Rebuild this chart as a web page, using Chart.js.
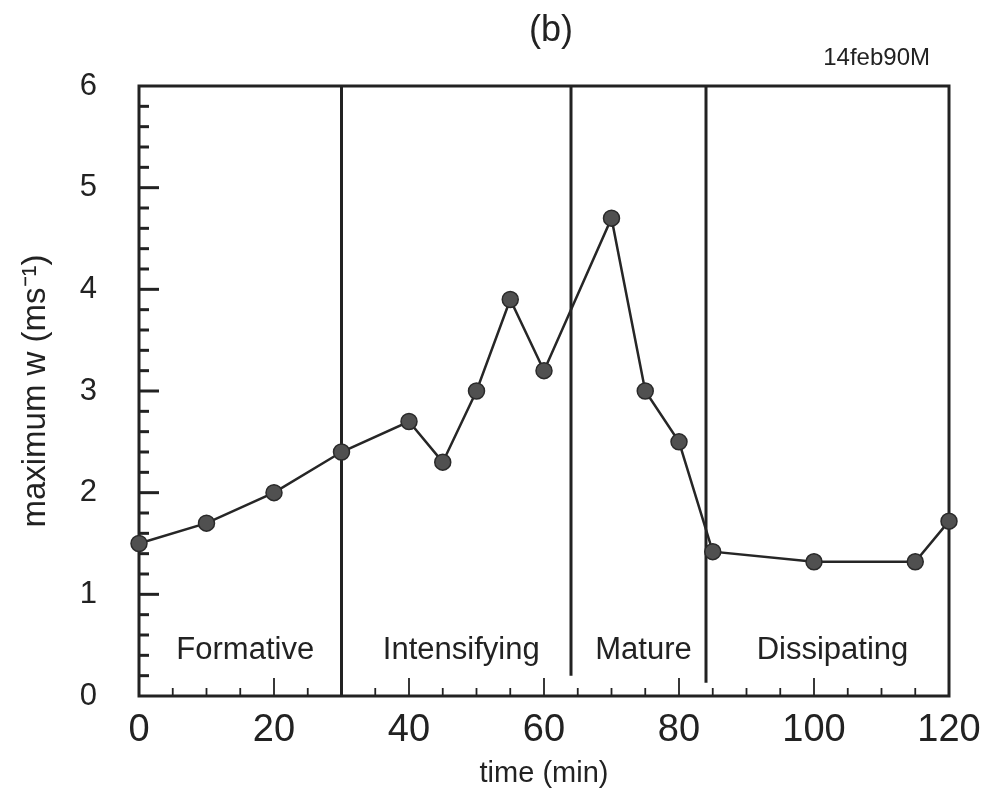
<!DOCTYPE html>
<html>
<head>
<meta charset="utf-8">
<script src="https://cdn.jsdelivr.net/npm/chart.js@4.4.0/dist/chart.umd.min.js"></script>
<style>
  html, body { margin: 0; padding: 0; background: #fff; }
  #wrap { width: 990px; height: 795px; }
</style>
</head>
<body>
<div id="wrap"><canvas id="grafica"></canvas></div>
<script>
const tiempos = [0, 10, 20, 30, 40, 45, 50, 55, 60, 70, 75, 80, 85, 100, 115, 120];
const maxW = [1.5, 1.7, 2.0, 2.4, 2.7, 2.3, 3.0, 3.9, 3.2, 4.7, 3.0, 2.5, 1.42, 1.32, 1.32, 1.72];
const fases = ['Formative', 'Intensifying', 'Mature', 'Dissipating'];
const limitesFase = [0, 30, 64, 84, 120];
const finLinea = [0, 0.2, 0.13]; // hasta donde baja cada linea separadora
const ticksX = [0, 20, 40, 60, 80, 100, 120];
const ticksY = [0, 1, 2, 3, 4, 5, 6];

const fuente = "'Liberation Sans', Arial, sans-serif";
const tinta = '#222';

const marco = {
    id: 'marco',
    beforeDatasetsDraw(chart) {
        const {ctx, chartArea: a, scales: {x, y}} = chart;
        ctx.save();
        ctx.strokeStyle = tinta;
        ctx.lineCap = 'butt';

        // ticks hacia dentro en el eje y
        ctx.lineWidth = 3;
        for (let i = 1; i < 30; i++) {
            const py = y.getPixelForValue(i / 5);
            const largo = i % 5 === 0 ? 20 : 10;
            ctx.beginPath();
            ctx.moveTo(a.left, py);
            ctx.lineTo(a.left + largo, py);
            ctx.stroke();
        }
        // ticks hacia dentro en el eje x
        ctx.lineWidth = 1.8;
        for (let i = 1; i < 24; i++) {
            const v = i * 5;
            const px = x.getPixelForValue(v);
            const largo = v % 20 === 0 ? 18 : 8;
            ctx.beginPath();
            ctx.moveTo(px, a.bottom);
            ctx.lineTo(px, a.bottom - largo);
            ctx.stroke();
        }

        // lineas entre fases
        ctx.lineWidth = 3;
        for (let k = 1; k < limitesFase.length - 1; k++) {
            const px = x.getPixelForValue(limitesFase[k]);
            ctx.beginPath();
            ctx.moveTo(px, a.top);
            ctx.lineTo(px, y.getPixelForValue(finLinea[k - 1]));
            ctx.stroke();
        }

        // recuadro
        ctx.lineWidth = 3;
        ctx.strokeRect(a.left, a.top, a.width, a.height);

        // nombres de las fases
        ctx.fillStyle = tinta;
        ctx.font = '31px ' + fuente;
        ctx.textAlign = 'center';
        ctx.textBaseline = 'middle';
        fases.forEach((nombre, k) => {
            const medio = (limitesFase[k] + limitesFase[k + 1]) / 2;
            ctx.fillText(nombre, x.getPixelForValue(medio) + 5, y.getPixelForValue(0.45));
        });
        ctx.restore();
    },
    afterDraw(chart) {
        const {ctx, chartArea: a} = chart;
        ctx.save();
        ctx.fillStyle = tinta;
        ctx.textBaseline = 'middle';
        ctx.textAlign = 'center';
        ctx.font = '36px ' + fuente;
        ctx.fillText('(b)', (a.left + a.right) / 2 + 7, 31);
        ctx.textAlign = 'right';
        ctx.font = '24px ' + fuente;
        ctx.fillText('14feb90M', a.right - 19, 58);
        ctx.restore();
    }
};

new Chart('grafica', {
    type: 'line',
    data: {
        datasets: [{
            data: tiempos.map((t, i) => ({x: t, y: maxW[i]})),
            borderColor: '#262626',
            borderWidth: 2.5,
            pointRadius: 8,
            pointBackgroundColor: '#505050',
            pointBorderColor: '#2a2a2a',
            pointBorderWidth: 1.5,
            tension: 0,
            clip: false
        }]
    },
    options: {
        responsive: true,
        maintainAspectRatio: false,
        animation: false,
        layout: {
            padding: {top: 86, right: 41, left: 0, bottom: 0}
        },
        plugins: {
            legend: {display: false},
            tooltip: {enabled: false}
        },
        scales: {
            x: {
                type: 'linear',
                min: 0,
                max: 120,
                afterBuildTicks: (s) => { s.ticks = ticksX.map(v => ({value: v})); },
                afterFit: (s) => { s.height = 99; s.paddingRight = 0; s.paddingLeft = 0; },
                grid: {display: false, drawTicks: false},
                border: {display: false},
                ticks: {
                    color: tinta,
                    padding: 12,
                    maxRotation: 0,
                    font: {family: fuente, size: 38}
                },
                title: {
                    display: true,
                    text: 'time (min)',
                    color: tinta,
                    padding: {top: 0, bottom: 4},
                    font: {family: fuente, size: 29}
                }
            },
            y: {
                min: 0,
                max: 6,
                afterBuildTicks: (s) => { s.ticks = ticksY.map(v => ({value: v})); },
                afterFit: (s) => { s.width = 139; },
                grid: {display: false, drawTicks: false},
                border: {display: false},
                ticks: {
                    color: tinta,
                    padding: 42,
                    font: {family: fuente, size: 31}
                },
                title: {
                    display: true,
                    text: 'maximum w (ms\u207B\u00B9)',
                    color: tinta,
                    padding: {top: 16, bottom: 0},
                    font: {family: fuente, size: 33}
                }
            }
        }
    },
    plugins: [marco]
});
</script>
</body>
</html>
